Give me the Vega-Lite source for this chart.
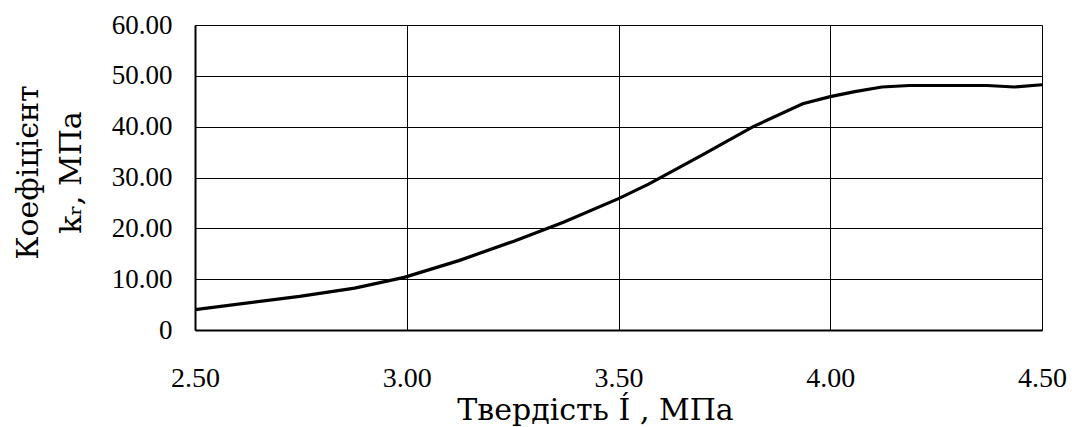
{
  "$schema": "https://vega.github.io/schema/vega-lite/v6.json",
  "width": 847,
  "height": 305,
  "autosize": {"type": "none"},
  "padding": {"left": 195, "top": 25, "right": 30, "bottom": 97},
  "background": "white",
  "config": {
    "view": {"stroke": null},
    "font": "Liberation Serif"
  },
  "data": {
    "values": [
      {"h": 2.5, "k": 4.0},
      {"h": 2.747, "k": 6.6},
      {"h": 2.877, "k": 8.24},
      {"h": 2.994, "k": 10.35},
      {"h": 3.123, "k": 13.65},
      {"h": 3.253, "k": 17.47},
      {"h": 3.37, "k": 21.2},
      {"h": 3.5, "k": 25.84},
      {"h": 3.571, "k": 28.7},
      {"h": 3.695, "k": 34.3},
      {"h": 3.818, "k": 40.0},
      {"h": 3.935, "k": 44.5},
      {"h": 4.0, "k": 45.9},
      {"h": 4.058, "k": 46.9},
      {"h": 4.122, "k": 47.8},
      {"h": 4.187, "k": 48.1},
      {"h": 4.37, "k": 48.1},
      {"h": 4.435, "k": 47.8},
      {"h": 4.5, "k": 48.25}
    ]
  },
  "mark": {"type": "line", "color": "black", "strokeWidth": 3.2, "clip": true},
  "encoding": {
    "x": {
      "field": "h",
      "type": "quantitative",
      "scale": {"domain": [2.5, 4.5], "nice": false, "zero": false},
      "axis": {
        "values": [2.5, 3.0, 3.5, 4.0, 4.5],
        "format": ".2f",
        "title": "Твердість  Í , МПа",
        "titleFont": "DejaVu Serif",
        "titleFontSize": 30,
        "titleFontWeight": "normal",
        "titleColor": "black",
        "titleBaseline": "alphabetic",
        "titleAnchor": "start",
        "titleAlign": "center",
        "titleX": 400,
        "titleY": 89,
        "labelFont": "Liberation Serif",
        "labelFontSize": 28,
        "labelColor": "black",
        "labelBaseline": "alphabetic",
        "labelPadding": 56,
        "ticks": false,
        "tickSize": 0,
        "labelFlush": false,
        "labelOverlap": false,
        "domainColor": "black",
        "domainWidth": 2,
        "grid": true,
        "gridColor": "black",
        "gridWidth": 1,
        "gridOpacity": 1
      }
    },
    "y": {
      "field": "k",
      "type": "quantitative",
      "scale": {"domain": [0, 60], "nice": false},
      "axis": {
        "values": [0, 10, 20, 30, 40, 50, 60],
        "labelExpr": "datum.value == 0 ? '0' : format(datum.value, '.2f')",
        "title": ["Коефіцієнт", "kᵣ, МПа"],
        "titleFont": "DejaVu Serif",
        "titleFontSize": 30,
        "titleFontWeight": "normal",
        "titleColor": "black",
        "titleAngle": -90,
        "titleBaseline": "alphabetic",
        "titleAlign": "center",
        "titleAnchor": "start",
        "titleLineHeight": 43,
        "titleX": -158,
        "titleY": 147,
        "labelFont": "Liberation Serif",
        "labelFontSize": 27,
        "labelColor": "black",
        "labelPadding": 23,
        "labelBaseline": "middle",
        "ticks": false,
        "tickSize": 0,
        "labelFlush": false,
        "labelOverlap": false,
        "domainColor": "black",
        "domainWidth": 2,
        "grid": true,
        "gridColor": "black",
        "gridWidth": 1,
        "gridOpacity": 1
      }
    }
  }
}
